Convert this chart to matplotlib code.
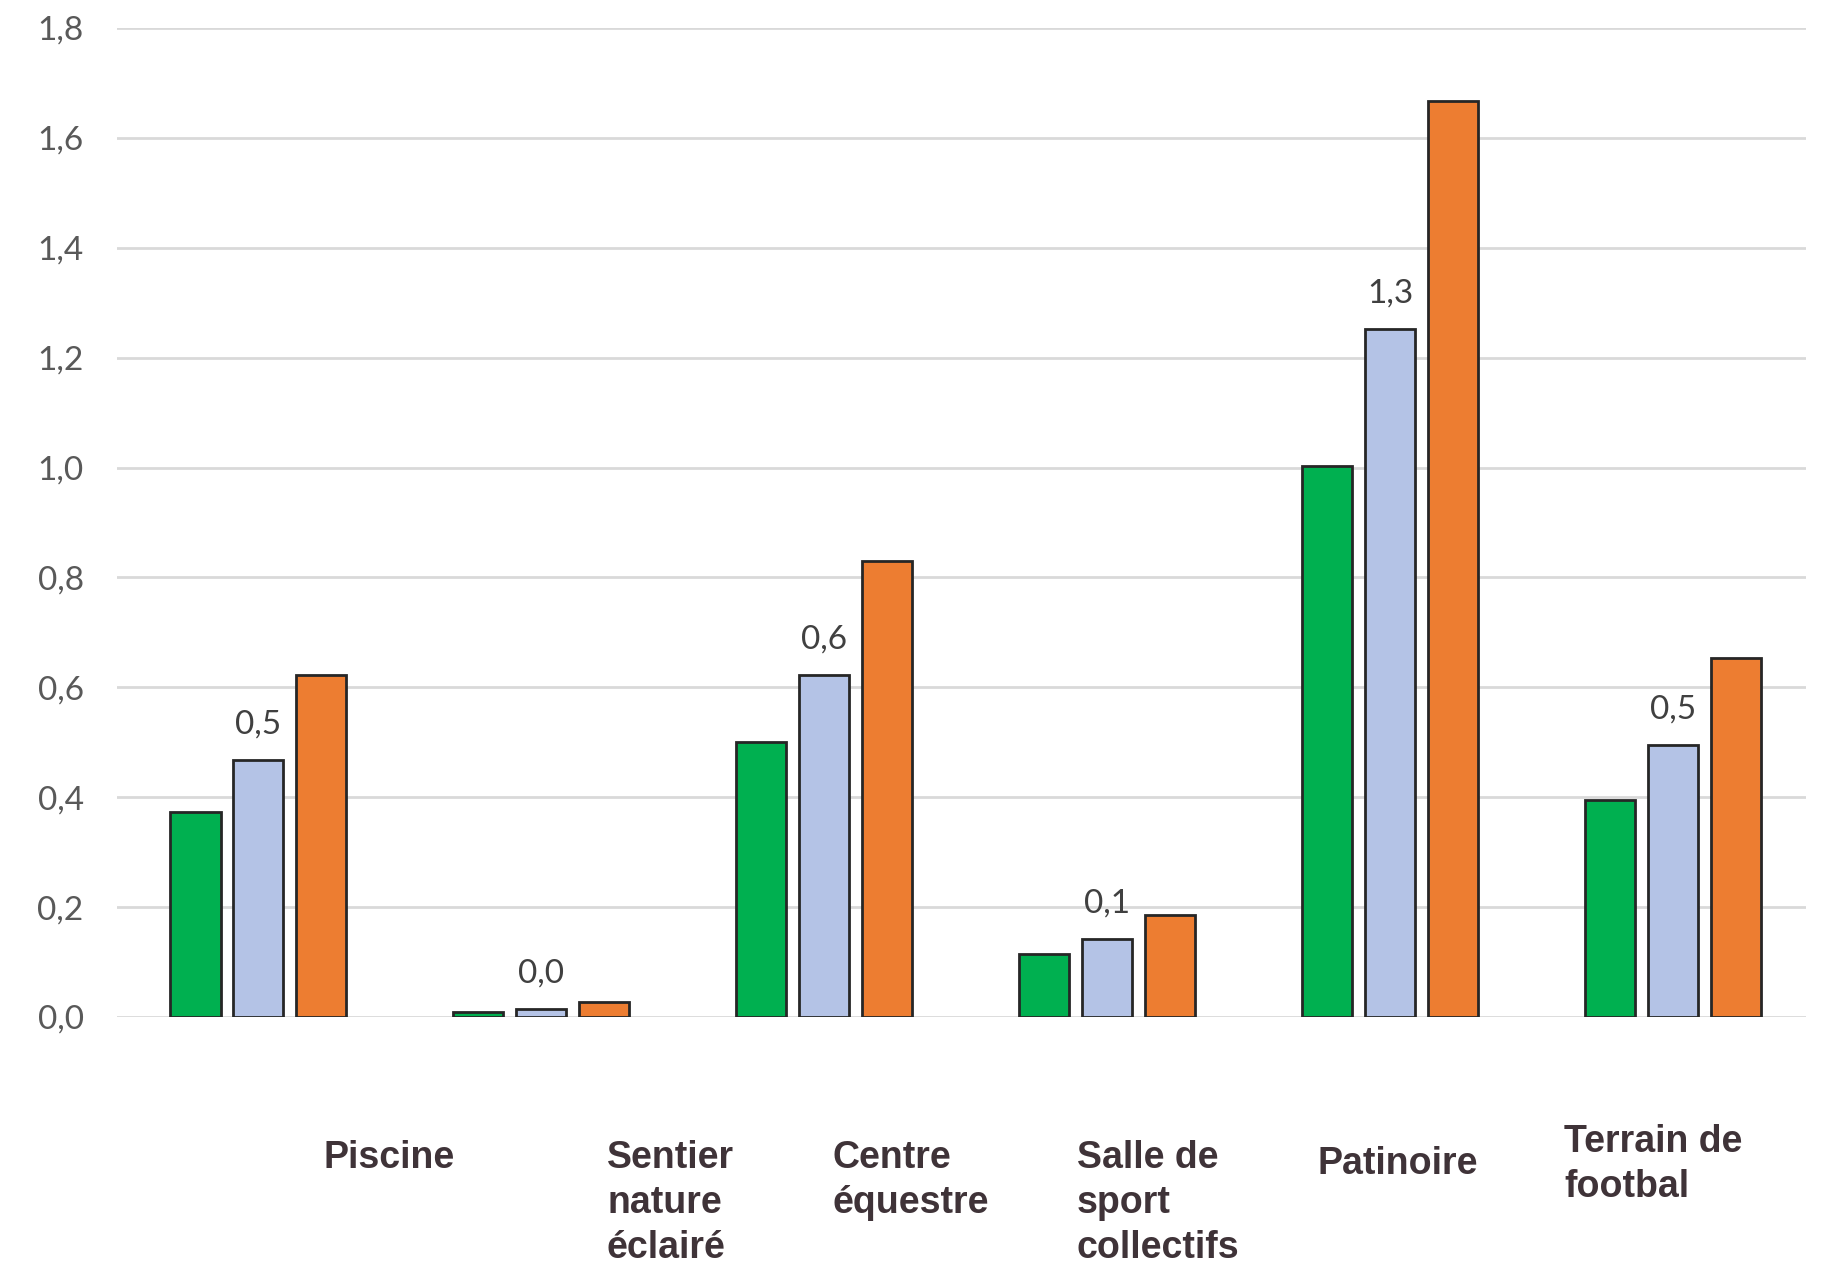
import numpy as np
import matplotlib
matplotlib.use("Agg")
import matplotlib.pyplot as plt

# ================= DATA =================
categories = [
    "Piscine",
    "Sentier\nnature\néclairé",
    "Centre\néquestre",
    "Salle de\nsport\ncollectifs",
    "Patinoire",
    "Terrain de\nfootbal",
]
serie_verte = [0.374, 0.009, 0.501, 0.115, 1.002, 0.395]
serie_bleue = [0.467, 0.015, 0.622, 0.142, 1.253, 0.495]
serie_orange = [0.622, 0.028, 0.830, 0.185, 1.668, 0.654]
y_ticks = [0.0, 0.2, 0.4, 0.6, 0.8, 1.0, 1.2, 1.4, 1.6, 1.8]
# =========================================

W, H = 1829, 1263
GREEN = "#00b050"
BLUE = "#b4c3e6"
ORANGE = "#ed7d31"
EDGE = "#262626"
GRID = "#d9d9d9"
NUM_FONT = ["Lato", "DejaVu Sans"]
LAB_FONT = ["Liberation Sans", "DejaVu Sans"]

fig = plt.figure(figsize=(W / 100, H / 100), dpi=100)
ax = fig.add_axes([117 / W, 1 - 1017 / H, (1806 - 117) / W, (1017 - 28) / H])

x = np.arange(len(categories))
bw = 0.177
step = 0.2226
series = [(serie_verte, GREEN), (serie_bleue, BLUE), (serie_orange, ORANGE)]
for k, (vals, col) in enumerate(series):
    ax.bar(x + (k - 1) * step, vals, width=bw, color=col, edgecolor=EDGE,
           linewidth=2.0, zorder=3)

# labels on the middle series only
for xi, v in zip(x, serie_bleue):
    ax.annotate(f"{v:.1f}".replace(".", ","), (xi, v), xytext=(0, 19),
                textcoords="offset points", ha="center", va="baseline",
                fontsize=24, color="#404040", family=NUM_FONT)

ax.set_xlim(-0.5, 5.47)
ax.set_ylim(0, 1.8)
ax.set_yticks(y_ticks)
ax.set_yticklabels([f"{t:.1f}".replace(".", ",") for t in y_ticks],
                   fontsize=24, color="#595959", family=NUM_FONT)
ax.tick_params(axis="y", length=0, pad=24)
ax.set_xticks([])
ax.grid(axis="y", color=GRID, linewidth=2.0, zorder=0)
for s in ax.spines.values():
    s.set_visible(False)

# category labels, placed below the plot like in the source
label_pos = [(324, 1140), (607, 1140), (832, 1140), (1077, 1140),
             (1318, 1146), (1564, 1124)]
for txt, (px, py) in zip(categories, label_pos):
    fig.text(px / W, 1 - py / H, txt, ha="left", va="top", fontsize=27,
             fontweight="bold", color="#3f3338", family=LAB_FONT,
             linespacing=1.33)

fig.savefig("out.png", dpi=100, facecolor="white")
